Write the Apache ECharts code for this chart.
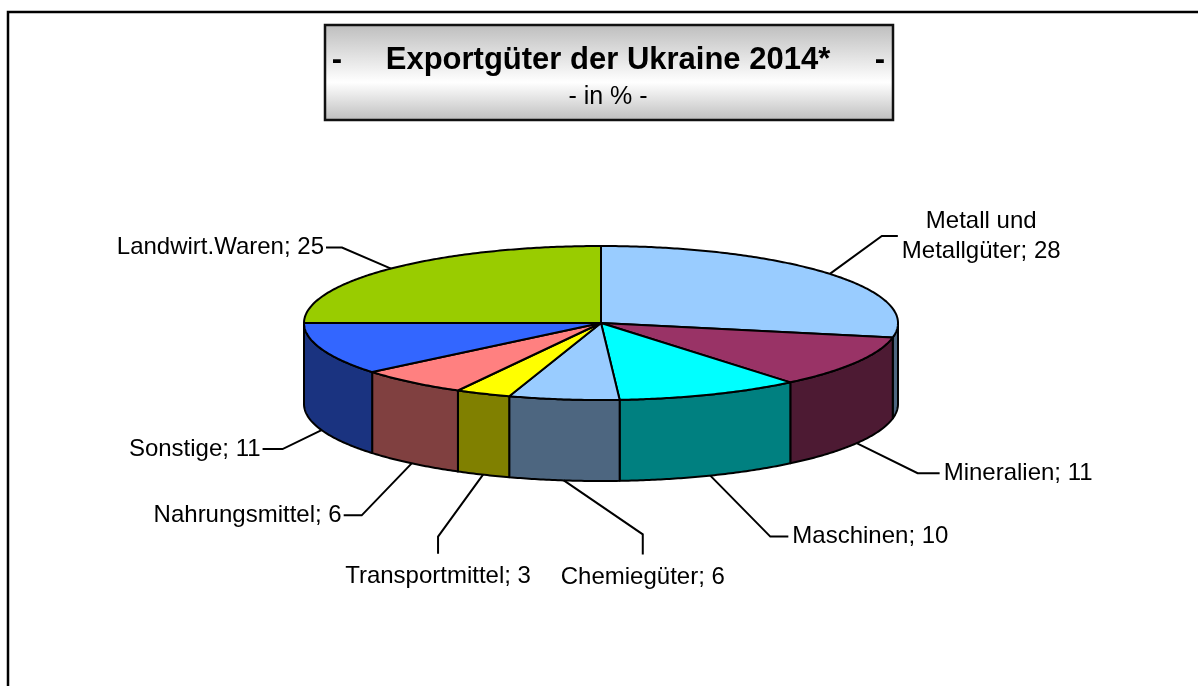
<!DOCTYPE html>
<html><head><meta charset="utf-8">
<script src="https://cdn.jsdelivr.net/npm/echarts@6/dist/echarts.min.js"></script>
<style>html,body{margin:0;padding:0;background:#fff;overflow:hidden}#c{width:1198px;height:686px}</style>
</head><body><div id="c"></div>
<script>
// ---- data ----
const categories = ['Metall und\nMetallgüter', 'Mineralien', 'Maschinen', 'Chemiegüter', 'Transportmittel', 'Nahrungsmittel', 'Sonstige', 'Landwirt.Waren'];
const values = [28, 11, 10, 6, 3, 6, 11, 25];
const titleText = 'Exportgüter der Ukraine 2014*';
const subtitleText = '- in % -';

// ---- styles / layout ----
const topColors  = ['#99CCFF', '#993366', '#00FFFF', '#99CCFF', '#FFFF00', '#FF8080', '#3366FF', '#99CC00'];
const sideColors = ['#4D6680', '#4D1A33', '#008080', '#4D6680', '#808000', '#804040', '#1A3380', '#4D6600'];
const FONT = '"Liberation Sans", Arial, Helvetica, sans-serif';
const LABEL_SIZE = 24;
const G = { cx: 601, cy: 323, rx: 297, ry: 77, depth: 81 };
// leader layout per slice: knee offset from anchor, then second segment, text side
const leaders = [
  { knee: [52, -38], seg: [16, 0], side: 'right' },
  { knee: [61, 30], seg: [22, 0], side: 'right' },
  { knee: [60, 61], seg: [18, 0], side: 'right' },
  { knee: [79, 54], seg: [0, 20], side: 'below' },
  { knee: [-45, 62], seg: [0, 17], side: 'below' },
  { knee: [-50, 52], seg: [-18, 0], side: 'left' },
  { knee: [-39, 19], seg: [-20, 0], side: 'left' },
  { knee: [-49, -21], seg: [-16, 0], side: 'left' }
];

const total = values.reduce((a, b) => a + b, 0);
const starts = []; let acc = 0; values.forEach(v => { starts.push(acc); acc += v; });
const ang = p => p / total * 2 * Math.PI;
const pt = (t, dy) => [G.cx + G.rx * Math.sin(t), G.cy - G.ry * Math.cos(t) + (dy || 0)];
function arc(t1, t2, dy) {
  const n = Math.max(2, Math.ceil(Math.abs(t2 - t1) / 0.01));
  const out = [];
  for (let i = 0; i <= n; i++) out.push(pt(t1 + (t2 - t1) * i / n, dy));
  return out;
}
const ctx = document.createElement('canvas').getContext('2d');
function textW(s, size, bold) {
  ctx.font = (bold ? 'bold ' : '') + size + 'px ' + FONT;
  return Math.max(...s.split('\n').map(l => ctx.measureText(l).width));
}

const seriesData = values.map((v, i) => ({ name: categories[i], value: [i, v] }));

function sideItem(params, api) {
  const i = params.dataIndex;
  const t1 = ang(starts[i]), t2 = ang(starts[i] + api.value(1));
  const a = Math.max(t1, Math.PI / 2), b = Math.min(t2, 3 * Math.PI / 2);
  if (b <= a) return { type: 'group', children: [] };
  const pts = arc(a, b, 0).concat(arc(b, a, G.depth));
  return { type: 'polygon', shape: { points: pts },
    style: { fill: sideColors[i], stroke: '#000', lineWidth: 2, lineJoin: 'round' } };
}
function topItem(params, api) {
  const i = params.dataIndex;
  const t1 = ang(starts[i]), t2 = ang(starts[i] + api.value(1));
  const pts = [[G.cx, G.cy]].concat(arc(t1, t2, 0));
  return { type: 'polygon', shape: { points: pts },
    style: { fill: topColors[i], stroke: '#000', lineWidth: 2, lineJoin: 'round' } };
}
function labelItem(params, api) {
  const i = params.dataIndex;
  const v = api.value(1);
  const tm = ang(starts[i] + v / 2);
  const front = Math.cos(tm) < 0;
  const A = pt(tm, front ? G.depth : 0);
  const L = leaders[i];
  const K = [A[0] + L.knee[0], A[1] + L.knee[1]];
  const E = [K[0] + L.seg[0], K[1] + L.seg[1]];
  const txt = categories[i] + '; ' + v;
  const w = textW(txt, LABEL_SIZE);
  let style = { text: txt, font: LABEL_SIZE + 'px ' + FONT, fill: '#000', lineHeight: 30 };
  if (L.side === 'right') Object.assign(style, { x: E[0] + 4 + w / 2, y: E[1], align: 'center', verticalAlign: 'middle' });
  else if (L.side === 'left') Object.assign(style, { x: E[0] - 2, y: E[1], align: 'right', verticalAlign: 'middle' });
  else Object.assign(style, { x: E[0], y: E[1] + 8, align: 'center', verticalAlign: 'top' });
  return { type: 'group', children: [
    { type: 'polyline', shape: { points: [A, K, E] }, style: { stroke: '#000', lineWidth: 2, fill: null } },
    { type: 'text', style: style }
  ] };
}

const chart = echarts.init(document.getElementById('c'), null, { renderer: 'canvas' });
chart.setOption({
  animation: false,
  backgroundColor: '#fff',
  graphic: [
    { type: 'rect', shape: { x: 8, y: 12, width: 1220, height: 700 }, style: { fill: '#fff', stroke: '#000', lineWidth: 2.5 }, z: -10 },
    { type: 'rect', shape: { x: 325, y: 25, width: 568, height: 95 },
      style: { stroke: '#111', lineWidth: 2.5,
        fill: { type: 'linear', x: 0, y: 0, x2: 0, y2: 1, colorStops: [
          { offset: 0, color: '#bdbdbd' }, { offset: 0.6, color: '#ffffff' }, { offset: 1, color: '#bdbdbd' } ] } }, z: 1 },
    { type: 'text', style: { text: '-', x: 337, y: 60, font: 'bold 31px ' + FONT, fill: '#000', align: 'center', verticalAlign: 'middle' }, z: 2 },
    { type: 'text', style: { text: '-', x: 880, y: 60, font: 'bold 31px ' + FONT, fill: '#000', align: 'center', verticalAlign: 'middle' }, z: 2 },
    { type: 'text', style: { text: titleText, x: 608, y: 60, font: 'bold 31px ' + FONT, fill: '#000', align: 'center', verticalAlign: 'middle' }, z: 2 },
    { type: 'text', style: { text: subtitleText, x: 608, y: 97, font: '25px ' + FONT, fill: '#000', align: 'center', verticalAlign: 'middle' }, z: 2 }
  ],
  series: [
    { type: 'custom', name: 'sides', coordinateSystem: 'none', renderItem: sideItem, data: seriesData, z: 2, silent: true },
    { type: 'custom', name: 'tops', coordinateSystem: 'none', renderItem: topItem, data: seriesData, z: 3, silent: true },
    { type: 'custom', name: 'labels', coordinateSystem: 'none', renderItem: labelItem, data: seriesData, z: 4, silent: true }
  ]
});
</script></body></html>
